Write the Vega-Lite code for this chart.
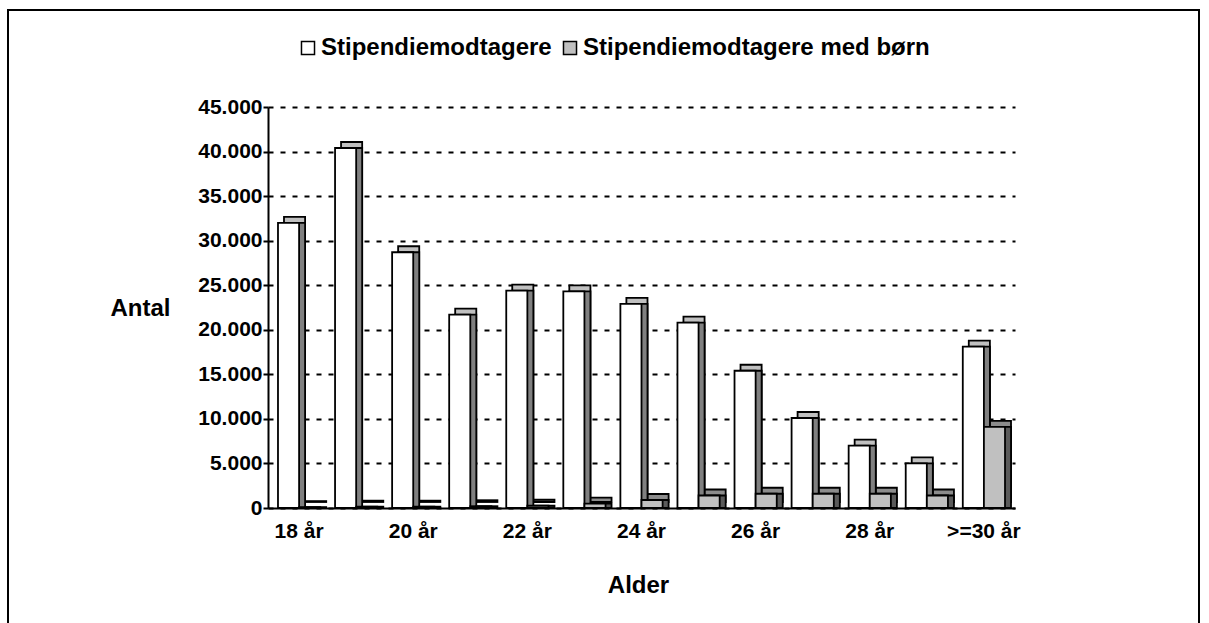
{
  "$schema": "https://vega.github.io/schema/vega-lite/v6.json",
  "width": 1191,
  "height": 616,
  "autosize": {"type": "none"},
  "padding": {"left": 8, "top": 10, "right": 10, "bottom": -3},
  "background": "white",
  "config": {
    "view": {"stroke": "black", "strokeWidth": 2},
    "font": "Liberation Sans"
  },
  "data": {
    "values": [
      {"age": "18 år", "series": "Stipendiemodtagere", "value": 32000},
      {"age": "18 år", "series": "Stipendiemodtagere med børn", "value": 100},
      {"age": "19 år", "series": "Stipendiemodtagere", "value": 40400},
      {"age": "19 år", "series": "Stipendiemodtagere med børn", "value": 150},
      {"age": "20 år", "series": "Stipendiemodtagere", "value": 28700},
      {"age": "20 år", "series": "Stipendiemodtagere med børn", "value": 150},
      {"age": "21 år", "series": "Stipendiemodtagere", "value": 21700},
      {"age": "21 år", "series": "Stipendiemodtagere med børn", "value": 200},
      {"age": "22 år", "series": "Stipendiemodtagere", "value": 24400},
      {"age": "22 år", "series": "Stipendiemodtagere med børn", "value": 250},
      {"age": "23 år", "series": "Stipendiemodtagere", "value": 24300},
      {"age": "23 år", "series": "Stipendiemodtagere med børn", "value": 500},
      {"age": "24 år", "series": "Stipendiemodtagere", "value": 22900},
      {"age": "24 år", "series": "Stipendiemodtagere med børn", "value": 900},
      {"age": "25 år", "series": "Stipendiemodtagere", "value": 20800},
      {"age": "25 år", "series": "Stipendiemodtagere med børn", "value": 1400},
      {"age": "26 år", "series": "Stipendiemodtagere", "value": 15400},
      {"age": "26 år", "series": "Stipendiemodtagere med børn", "value": 1600},
      {"age": "27 år", "series": "Stipendiemodtagere", "value": 10100},
      {"age": "27 år", "series": "Stipendiemodtagere med børn", "value": 1600},
      {"age": "28 år", "series": "Stipendiemodtagere", "value": 7000},
      {"age": "28 år", "series": "Stipendiemodtagere med børn", "value": 1600},
      {"age": "29 år", "series": "Stipendiemodtagere", "value": 5000},
      {"age": "29 år", "series": "Stipendiemodtagere med børn", "value": 1400},
      {"age": ">=30 år", "series": "Stipendiemodtagere", "value": 18100},
      {"age": ">=30 år", "series": "Stipendiemodtagere med børn", "value": 9100}
    ]
  },
  "encoding": {
    "x": {
      "field": "age",
      "type": "nominal",
      "sort": null,
      "title": "Alder",
      "scale": {"range": [260, 1007], "paddingInner": 0.26, "paddingOuter": 0.175},
      "axis": {
        "offset": -118,
        "values": ["18 år", "20 år", "22 år", "24 år", "26 år", "28 år", ">=30 år"],
        "labelAngle": 0,
        "labelFontSize": 21,
        "labelFontWeight": "bold",
        "labelColor": "black",
        "labelPadding": 12,
        "ticks": false,
        "grid": false,
        "domainColor": "black",
        "domainWidth": 2,
        "titleFontSize": 24,
        "titleFontWeight": "bold",
        "titleColor": "black",
        "titleX": 630,
        "titleY": 77,
        "titleBaseline": "middle"
      }
    },
    "y": {
      "field": "value",
      "type": "quantitative",
      "title": "Antal",
      "scale": {"domain": [0, 45000], "range": [498, 97], "nice": false},
      "axis": {
        "offset": -260,
        "values": [0, 5000, 10000, 15000, 20000, 25000, 30000, 35000, 40000, 45000],
        "labelExpr": "replace(format(datum.value, ','), ',', '.')",
        "labelFontSize": 21,
        "labelFontWeight": "bold",
        "labelColor": "black",
        "labelPadding": 1,
        "tickColor": "black",
        "tickSize": 5,
        "tickWidth": 2,
        "domainColor": "black",
        "domainWidth": 2,
        "grid": true,
        "gridColor": "black",
        "gridWidth": 2,
        "gridDash": [5, 7],
        "gridOpacity": 1,
        "titleAngle": 0,
        "titleX": -128,
        "titleY": 298,
        "titleAlign": "center",
        "titleBaseline": "middle",
        "titleFontSize": 24,
        "titleFontWeight": "bold",
        "titleColor": "black"
      }
    }
  },
  "layer": [
    {
      "mark": {"type": "bar", "yOffset": -6, "stroke": "black", "strokeWidth": 1.8},
      "encoding": {
        "xOffset": {"field": "series", "type": "nominal", "sort": null, "scale": {"paddingInner": 0, "range": [6, 48.23]}},
        "fill": {"field": "series", "type": "nominal", "scale": {"range": ["#c0c0c0", "#8c8c8c"]}, "legend": null}
      }
    },
    {
      "mark": {"type": "bar", "stroke": "black", "strokeWidth": 1.8},
      "encoding": {
        "xOffset": {"field": "series", "type": "nominal", "sort": null, "scale": {"paddingInner": 0, "range": [6, 48.23]}},
        "fill": {"field": "series", "type": "nominal", "scale": {"range": ["#808080", "#5a5a5a"]}, "legend": null}
      }
    },
    {
      "mark": {"type": "bar", "stroke": "black", "strokeWidth": 1.8},
      "encoding": {
        "xOffset": {"field": "series", "type": "nominal", "sort": null, "scale": {"paddingInner": 0}},
        "color": {
          "field": "series",
          "type": "nominal",
          "scale": {"range": ["#ffffff", "#c0c0c0"]},
          "legend": {
            "title": null,
            "orient": "none",
            "legendX": 288,
            "legendY": 26,
            "direction": "horizontal",
            "symbolType": "square",
            "symbolSize": 170,
            "symbolStrokeColor": "black",
            "symbolStrokeWidth": 1.5,
            "labelFontSize": 24,
            "labelFontWeight": "bold",
            "labelColor": "black",
            "labelLimit": 0,
            "columnPadding": 6,
            "labelOffset": 1
          }
        }
      }
    }
  ],
  "resolve": {"scale": {"fill": "independent", "xOffset": "independent"}}
}
